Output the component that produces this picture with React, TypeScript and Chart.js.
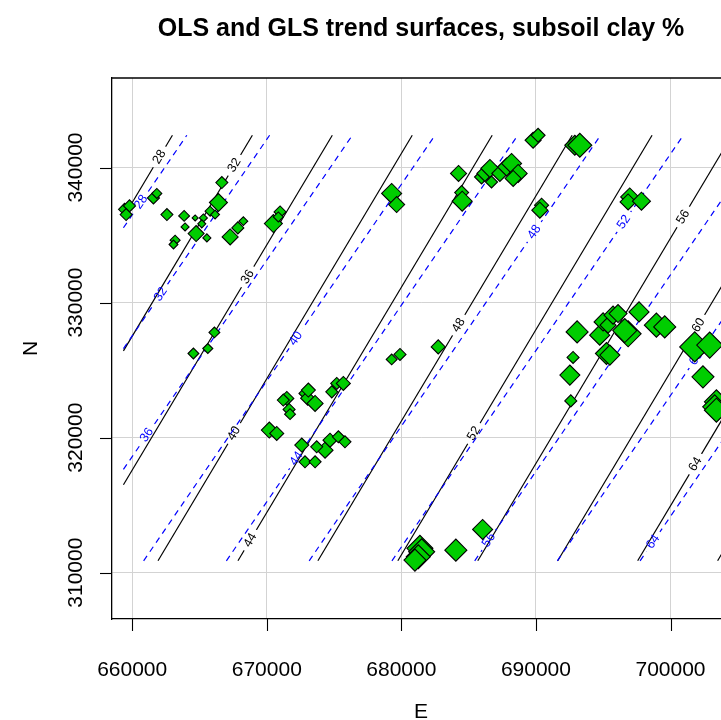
import React, { useEffect, useRef } from 'react';
import { Chart, registerables } from 'chart.js';

Chart.register(...registerables);

const TITLE = 'OLS and GLS trend surfaces, subsoil clay %';
const X_LABEL = 'E';
const Y_LABEL = 'N';
const xTicks = [660000, 670000, 680000, 690000, 700000];
const yTicks = [310000, 320000, 330000, 340000];
const xMin = 658500;
const xMax = 704420;
const yMin = 306570;
const yMax = 346630;

// observations: easting, northing, subsoil clay %
const obsE = [
  659430, 659800, 659550, 661580, 661830, 662580, 663860, 663930, 664680, 665290,
  665170, 664750, 665550, 665790, 666160, 666410, 666660, 663190, 663070, 667280,
  667850, 668260, 670490, 670990, 670860,
  679280, 679650, 684250, 684480, 684520, 685960, 686210, 686580, 686700, 687320,
  687820, 688190, 688680, 688310, 689790, 690160, 692890, 693260, 690420, 690290,
  696970, 696850, 697840,
  666110, 665620, 664550, 671490, 671660, 671730, 671230, 672840, 673040, 670190,
  670740, 672600, 672840, 673090, 673590, 674830, 675200, 675690, 679280, 679900,
  682740, 673590, 674330, 674700, 675320, 675810, 673710,
  693060, 692760, 692520, 692590, 694740, 694990, 695360, 695730, 696100, 695240,
  695490, 696850, 696600, 697660, 698950, 699570, 701800, 702910, 702410, 703410,
  703280, 703410,
  681380, 681510, 681260, 681010, 684050, 686040,
];
const obsN = [
  336910, 337160, 336520, 337750, 338080, 336520, 336420, 335600, 336270, 336270,
  335830, 335110, 334790, 336770, 336520, 337410, 338890, 334620, 334300, 334860,
  335530, 336030, 335850, 336710, 336340,
  338080, 337260, 339560, 338150, 337510, 339300, 339560, 339930, 338930, 339560,
  340040, 340300, 339560, 339190, 342020, 342390, 341650, 341650, 337210, 336840,
  337820, 337450, 337510,
  327790, 326600, 326230, 322900, 322090, 321740, 322780, 323270, 322920, 320560,
  320310, 319450, 318210, 323520, 322530, 323390, 324010, 324010, 325790, 326160,
  326720, 318210, 319070, 319810, 320060, 319690, 319320,
  327830, 325940, 324630, 322720, 327590, 328570, 328330, 329070, 329190, 326230,
  326110, 327690, 327930, 329310, 328330, 328200, 326720, 326850, 324500, 322650,
  322280, 322030,
  311800, 311550, 311180, 310930, 311670, 313200,
];
const clay = [
  30, 30, 30, 30, 25, 30, 27, 20, 15, 20,
  20, 40, 20, 25, 22, 45, 30, 25, 22, 40,
  30, 22, 45, 30, 25,
  50, 40, 40, 35, 50, 35, 40, 45, 30, 40,
  45, 50, 45, 40, 40, 35, 50, 60, 35, 40,
  45, 40, 45,
  27, 25, 27, 35, 30, 27, 30, 30, 35, 40,
  35, 35, 30, 35, 40, 30, 30, 35, 27, 30,
  35, 30, 40, 35, 30, 30, 30,
  55, 30, 50, 30, 50, 45, 40, 45, 45, 55,
  50, 65, 60, 50, 60, 55, 75, 65, 55, 60,
  60, 60,
  65, 65, 60, 55, 55, 50,
];

// OLS trend-surface contours (solid black)
const olsLevels = [28, 32, 36, 40, 44, 48, 52, 56, 60, 64, 68];
const olsStartE = [659350, 659350, 659350, 661920, 667860, 673800, 679740, 685680, 691620, 697560, 703500];
const olsStartN = [336320, 326420, 316510, 310880, 310880, 310880, 310880, 310880, 310880, 310880, 310880];
const olsEndE = [662990, 668930, 674870, 680810, 686750, 692690, 698630, 704570, 710510, 716450, 722390];
const olsEndN = [342390, 342390, 342390, 342390, 342390, 342390, 342390, 342390, 342390, 342390, 342390];
const olsLabelN = [340785, 340170, 331900, 320310, 312410, 328330, 320310, 336340, 328330, 318040, null];

// GLS trend-surface contours (dashed blue)
const glsLevels = [28, 32, 36, 40, 44, 48, 52, 56, 60, 64, 68];
const glsStartE = [659350, 659350, 659350, 660850, 667000, 673150, 679300, 685450, 691590, 697740, 703890];
const glsStartN = [335540, 326590, 317650, 310880, 310880, 310880, 310880, 310880, 310880, 310880, 310880];
const glsEndE = [664060, 670210, 676360, 682500, 688650, 694800, 700950, 707100, 713240, 719390, 725540];
const glsEndN = [342390, 342390, 342390, 342390, 342390, 342390, 342390, 342390, 342390, 342390, 342390];
const glsLabelN = [337450, 330620, 320190, 327340, 318460, 335230, 335970, 312410, 325880, 312290, null];

const FONT = '"Liberation Sans", Arial, Helvetica, sans-serif';

export default function App() {
  const ref = useRef<HTMLCanvasElement | null>(null);

  useEffect(() => {
    const canvas = ref.current;
    if (!canvas) return;

    const labelInfo: Record<number, any> = {};
    const datasets: any[] = [
      {
        label: 'clay',
        data: obsE.map((e, i) => ({ x: e, y: obsN[i] })),
        pointStyle: 'rectRot',
        pointRadius: clay.map((c) => c / 5),
        pointBackgroundColor: '#00CD00',
        pointBorderColor: '#000000',
        pointBorderWidth: 1.1,
        showLine: false,
        order: 0,
      },
    ];

    const addContours = (
      levels: number[], sE: number[], sN: number[], eE: number[], eN: number[],
      labN: (number | null)[], color: string, dash: number[], order: number,
    ) => {
      levels.forEach((lv, i) => {
        const idx = datasets.length;
        datasets.push({
          label: `c${lv}`,
          data: [{ x: sE[i], y: sN[i] }, { x: eE[i], y: eN[i] }],
          showLine: true,
          borderColor: color,
          borderWidth: 1.2,
          borderDash: dash,
          pointRadius: 0,
          pointHoverRadius: 0,
          fill: false,
          tension: 0,
          order,
        });
        const ln = labN[i];
        if (ln !== null && ln !== undefined) {
          const t = (ln - sN[i]) / (eN[i] - sN[i]);
          labelInfo[idx] = {
            text: String(lv),
            e: sE[i] + t * (eE[i] - sE[i]),
            n: ln,
            e1: sE[i], n1: sN[i], e2: eE[i], n2: eN[i],
            color,
          };
        }
      });
    };
    addContours(olsLevels, olsStartE, olsStartN, olsEndE, olsEndN, olsLabelN, '#000000', [], 2);
    addContours(glsLevels, glsStartE, glsStartN, glsEndE, glsEndN, glsLabelN, '#0000FF', [6, 5], 1);

    const decor = {
      id: 'decor',
      beforeDatasetDraw(chart: any, args: any) {
        const info = labelInfo[args.index];
        if (!info) return;
        const xs = chart.scales.x;
        const ys = chart.scales.y;
        const ctx = chart.ctx;
        const cx = xs.getPixelForValue(info.e);
        const cy = ys.getPixelForValue(info.n);
        const ang = Math.atan2(
          ys.getPixelForValue(info.n2) - ys.getPixelForValue(info.n1),
          xs.getPixelForValue(info.e2) - xs.getPixelForValue(info.e1),
        );
        info.cx = cx; info.cy = cy; info.ang = ang;
        ctx.save();
        ctx.font = `12.6px ${FONT}`;
        const tw = ctx.measureText(info.text).width;
        const hw = tw / 2 + 5;
        const hh = 7;
        const c = Math.cos(ang);
        const s = Math.sin(ang);
        const pts = [[-hw, -hh], [hw, -hh], [hw, hh], [-hw, hh]].map(([u, v]) => [cx + u * c - v * s, cy + u * s + v * c]);
        ctx.beginPath();
        ctx.rect(0, 0, chart.width, chart.height);
        ctx.moveTo(pts[0][0], pts[0][1]);
        ctx.lineTo(pts[1][0], pts[1][1]);
        ctx.lineTo(pts[2][0], pts[2][1]);
        ctx.lineTo(pts[3][0], pts[3][1]);
        ctx.closePath();
        ctx.clip('evenodd');
      },
      afterDatasetDraw(chart: any, args: any) {
        const info = labelInfo[args.index];
        if (!info) return;
        const ctx = chart.ctx;
        ctx.restore();
        const a = chart.chartArea;
        if (info.cx < a.left || info.cx > a.right || info.cy < a.top || info.cy > a.bottom) return;
        ctx.save();
        ctx.translate(info.cx, info.cy);
        ctx.rotate(info.ang);
        ctx.font = `12.6px ${FONT}`;
        ctx.fillStyle = info.color;
        ctx.textAlign = 'center';
        ctx.textBaseline = 'middle';
        ctx.fillText(info.text, 0, 0);
        ctx.restore();
      },
      afterDraw(chart: any) {
        const ctx = chart.ctx;
        const a = chart.chartArea;
        const xs = chart.scales.x;
        const ys = chart.scales.y;
        ctx.save();
        ctx.strokeStyle = '#000000';
        ctx.lineWidth = 1.3;
        // top border of the box
        ctx.beginPath();
        ctx.moveTo(a.left, a.top);
        ctx.lineTo(a.right, a.top);
        ctx.stroke();
        // tick marks
        ctx.lineWidth = 1.1;
        xTicks.forEach((v) => {
          const px = Math.round(xs.getPixelForValue(v)) + 0.5;
          ctx.beginPath();
          ctx.moveTo(px, a.bottom);
          ctx.lineTo(px, a.bottom + 12);
          ctx.stroke();
        });
        yTicks.forEach((v) => {
          const py = Math.round(ys.getPixelForValue(v)) + 0.5;
          ctx.beginPath();
          ctx.moveTo(a.left - 12, py);
          ctx.lineTo(a.left, py);
          ctx.stroke();
        });
        // tick labels
        ctx.fillStyle = '#000000';
        ctx.font = `21px ${FONT}`;
        ctx.textAlign = 'center';
        ctx.textBaseline = 'alphabetic';
        xTicks.forEach((v) => {
          ctx.fillText(String(v), xs.getPixelForValue(v), 676);
        });
        yTicks.forEach((v) => {
          ctx.save();
          ctx.translate(82, ys.getPixelForValue(v));
          ctx.rotate(-Math.PI / 2);
          ctx.fillText(String(v), 0, 0);
          ctx.restore();
        });
        // axis titles
        const midX = (a.left + a.right) / 2;
        const midY = (a.top + a.bottom) / 2;
        ctx.fillText(X_LABEL, midX, 718);
        ctx.save();
        ctx.translate(37, midY);
        ctx.rotate(-Math.PI / 2);
        ctx.fillText(Y_LABEL, 0, 0);
        ctx.restore();
        // main title
        ctx.font = `bold 25px ${FONT}`;
        ctx.fillText(TITLE, midX, 36);
        ctx.restore();
      },
    };

    const chart = new Chart(canvas, {
      type: 'scatter',
      data: { datasets },
      options: {
        animation: false,
        responsive: false,
        devicePixelRatio: 1,
        events: [],
        layout: { autoPadding: false, padding: { top: 78, left: 0, right: 1, bottom: 0 } },
        plugins: {
          legend: { display: false },
          tooltip: { enabled: false },
          title: { display: false },
        },
        scales: {
          x: {
            type: 'linear',
            min: xMin,
            max: xMax,
            afterBuildTicks: (s: any) => { s.ticks = xTicks.map((v) => ({ value: v })); },
            afterFit: (s: any) => { s.height = 101; },
            ticks: { display: false },
            grid: { color: '#d3d3d3', lineWidth: 1, drawTicks: false },
            border: { display: true, color: '#000000', width: 1.3 },
          },
          y: {
            type: 'linear',
            min: yMin,
            max: yMax,
            afterBuildTicks: (s: any) => { s.ticks = yTicks.map((v) => ({ value: v })); },
            afterFit: (s: any) => { s.width = 112; },
            ticks: { display: false },
            grid: { color: '#d3d3d3', lineWidth: 1, drawTicks: false },
            border: { display: true, color: '#000000', width: 1.3 },
          },
        },
      },
      plugins: [decor],
    } as any);

    return () => chart.destroy();
  }, []);

  return (
    <div style={{ position: 'fixed', left: 0, top: 0, width: 721, height: 720, overflow: 'hidden', background: '#ffffff' }}>
      <canvas ref={ref} width={731} height={720} style={{ display: 'block' }} />
    </div>
  );
}
